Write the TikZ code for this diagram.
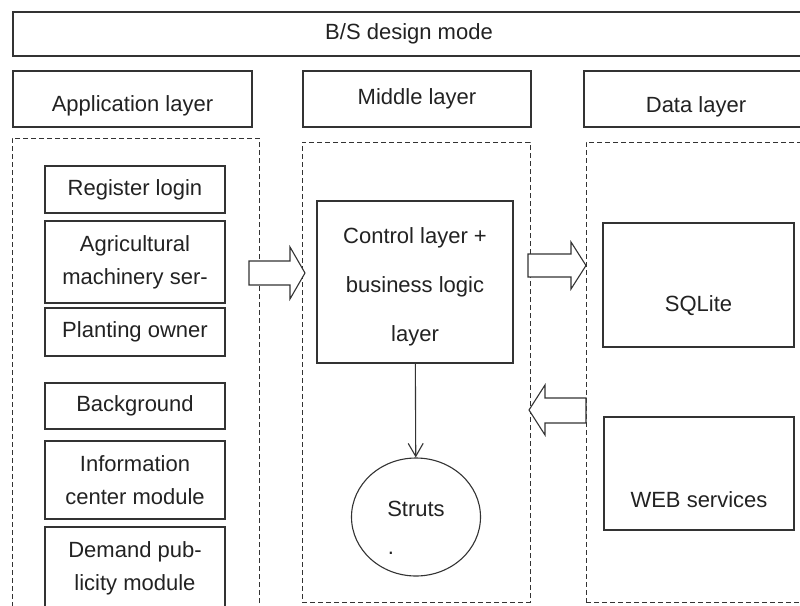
\documentclass[tikz,border=0pt]{standalone}
\usepackage{xcolor}
\usepackage{fontspec}
\setmainfont{Liberation Sans}
\usepackage{tikz}
\usetikzlibrary{shapes,arrows.meta,positioning}
\definecolor{linecol}{HTML}{333333}
\definecolor{txtcol}{HTML}{222222}
\tikzset{
  layerbox/.style={draw=linecol, line width=1.1pt, rectangle, align=center,
    font=\fontsize{22}{33}\selectfont, text=txtcol},
  modbox/.style={layerbox, minimum width=180},
  zone/.style={draw=linecol, line width=0.9pt, dash pattern=on 5pt off 3pt, rectangle},
  hollow/.style={draw=linecol, line width=1.1pt, fill=white, line join=miter},
  every label/.style={font=\fontsize{22}{33}\selectfont, text=txtcol, inner sep=0pt, align=center},
}

\begin{document}
\begin{tikzpicture}[x=1pt, y=-1pt]
        \useasboundingbox (0,0) rectangle (800,605);
        \clip (0,0) rectangle (800,605);

        \node[layerbox, minimum width=792, minimum height=44] (bs) at (409,34) {B/S design mode};

        \node[layerbox, minimum width=239, minimum height=56, label={[yshift=-7pt]center:Application layer}] (apphead) at (132.5,99) {};
        \node[layerbox, minimum width=228, minimum height=56] (midhead) at (417,99) {Middle layer};
        \node[layerbox, minimum width=224, minimum height=56, label={[yshift=-8pt]center:Data layer}] (datahead) at (696,99) {};

        \node[zone, minimum width=247, minimum height=482] (appzone) at (135.5,379) {};
        \node[zone, minimum width=228, minimum height=460] (midzone) at (416,372) {};
        \node[zone, minimum width=234, minimum height=460] (datazone) at (703,372) {};

        \node[modbox, minimum height=47] (register) at (135,189.5) {Register login};
        \node[modbox, minimum height=82] (agri) at (135,262) {Agricultural\\machinery ser-};
        \node[modbox, minimum height=48] (planting) at (135,332) {Planting owner};
        \node[modbox, minimum height=46] (backgr) at (135,406) {Background};
        \node[modbox, minimum height=78] (infocenter) at (135,480) {Information\\center module};
        \node[modbox, minimum height=82] (demand) at (135,568) {Demand pub-\\licity module};

        \node[layerbox, minimum width=196, minimum height=162,
              label={[yshift=-5pt]center:Control layer +\\[16pt]business logic\\[16pt]layer}] (ctrl) at (415,282) {};
        \node[draw=linecol, line width=1.1pt, ellipse, minimum width=129, minimum height=118,
              label={[yshift=8.5pt]center:Struts}, label={[xshift=-25pt,yshift=-36pt]center:.}] (struts) at (416,517) {};
        \draw[draw=linecol, line width=1.1pt, -{Straight Barb[length=13pt,width=15pt]}] (ctrl) -- (struts);

        \node[layerbox, minimum width=191, minimum height=124, label={[yshift=-21pt]center:SQLite}] (sqlite) at (698.5,285) {};
        \node[layerbox, minimum width=190, minimum height=113, label={[yshift=-26pt]center:WEB services}] (websrv) at (699,473.5) {};

        \draw[hollow] (249,261) -- (290,261) -- (290,247) -- (305,273) -- (290,299) -- (290,285) -- (249,285) -- cycle;
        \draw[hollow] (528,254) -- (571,254) -- (571,242) -- (586,265.5) -- (571,289) -- (571,277) -- (528,277) -- cycle;
        \draw[hollow] (586,398) -- (545,398) -- (545,385) -- (529,410) -- (545,435) -- (545,423) -- (586,423) -- cycle;
    \end{tikzpicture}
\end{document}
